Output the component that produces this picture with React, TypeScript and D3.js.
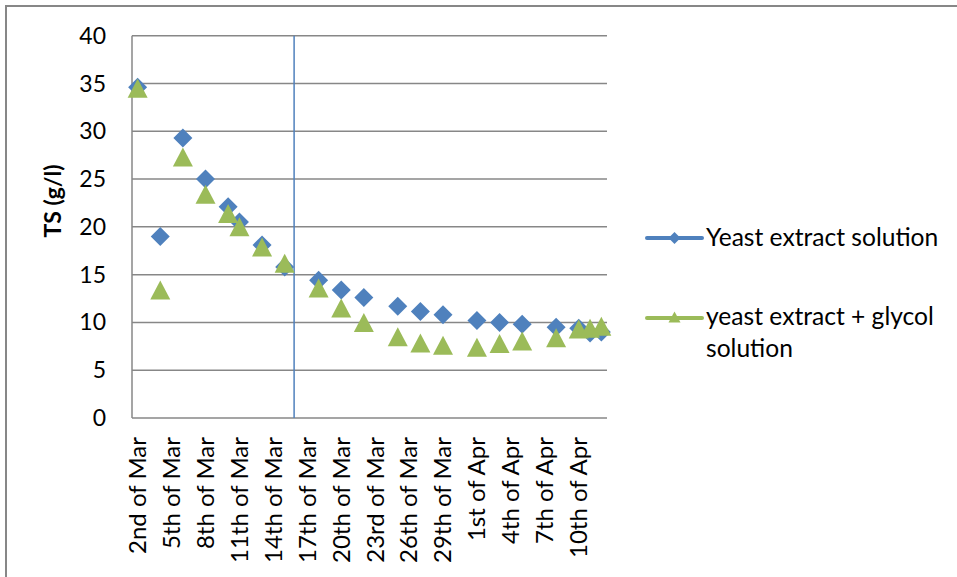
import React from "react";
import * as d3 from "d3";

// ---- data ----
const sampleDates: string[] = [
  "2012-03-02", "2012-03-04", "2012-03-06", "2012-03-08", "2012-03-10", "2012-03-11",
  "2012-03-13", "2012-03-15", "2012-03-18", "2012-03-20", "2012-03-22", "2012-03-25",
  "2012-03-27", "2012-03-29", "2012-04-01", "2012-04-03", "2012-04-05", "2012-04-08",
  "2012-04-10", "2012-04-11", "2012-04-12",
];
const yeastExtract: number[] = [
  34.6, 19.0, 29.3, 25.0, 22.1, 20.5, 18.1, 15.8, 14.4, 13.4, 12.6, 11.7,
  11.15, 10.8, 10.2, 10.0, 9.8, 9.5, 9.4, 8.9, 9.0,
];
const yeastGlycol: number[] = [
  34.5, 13.4, 27.3, 23.4, 21.4, 20.0, 17.9, 16.2, 13.6, 11.5, 10.0, 8.5,
  7.85, 7.6, 7.4, 7.8, 8.05, 8.4, 9.3, 9.4, 9.6,
];
const seriesNames: string[] = ["Yeast extract solution", "yeast extract + glycol solution"];
const xTickDates: string[] = [
  "2012-03-02", "2012-03-05", "2012-03-08", "2012-03-11", "2012-03-14", "2012-03-17",
  "2012-03-20", "2012-03-23", "2012-03-26", "2012-03-29", "2012-04-01", "2012-04-04",
  "2012-04-07", "2012-04-10",
];
const xTickLabels: string[] = [
  "2nd of Mar", "5th of Mar", "8th of Mar", "11th of Mar", "14th of Mar", "17th of Mar",
  "20th of Mar", "23rd of Mar", "26th of Mar", "29th of Mar", "1st of Apr", "4th of Apr",
  "7th of Apr", "10th of Apr",
];
const yTicks: number[] = [0, 5, 10, 15, 20, 25, 30, 35, 40];
const xDomain: string[] = ["2012-03-01T12:00:00Z", "2012-04-12T12:00:00Z"];
const markerLineDate = "2012-03-15T20:00:00Z";
const yAxisTitle = "TS (g/l)";

const BLUE = "#4F81BD";
const GREEN = "#9BBB59";
const GRID = "#878787";
const FONT = "Lato, 'Open Sans', sans-serif";

export default function App() {
  const W = 957, H = 577;
  const left = 132, right = 607, top = 35.7, bottom = 418;
  const x = d3.scaleUtc().domain(xDomain.map((s) => new Date(s))).range([left, right]);
  const y = d3.scaleLinear().domain([0, 40]).range([bottom, top]);
  const parse = (s: string) => new Date(s + "T00:00:00Z");

  const diamond = (cx: number, cy: number, r: number) =>
    `M${cx},${cy - r}L${cx + r},${cy}L${cx},${cy + r}L${cx - r},${cy}Z`;
  const triangle = (cx: number, cy: number, w: number, h: number) =>
    `M${cx},${cy - h / 2}L${cx + w / 2},${cy + h / 2}L${cx - w / 2},${cy + h / 2}Z`;

  const mx = x(new Date(markerLineDate));

  return (
    <svg width={W} height={H} style={{ position: "absolute", left: 0, top: 0, background: "#fff" }}>
      <rect width={W} height={H} fill="#fff" />
      {/* outer frame */}
      <line x1={5} x2={W} y1={6} y2={6} stroke={GRID} strokeWidth={2} />
      <line x1={6} x2={6} y1={5} y2={H} stroke={GRID} strokeWidth={2} />

      {/* gridlines */}
      {yTicks.map((t) => (
        <line key={"g" + t} x1={left} x2={right} y1={y(t)} y2={y(t)} stroke={GRID} strokeWidth={1.5} />
      ))}
      <line x1={left} x2={left} y1={top} y2={bottom} stroke={GRID} strokeWidth={1.5} />

      {/* y tick labels */}
      {yTicks.map((t) => (
        <text key={"yl" + t} x={106} y={y(t)} dy="0.35em" textAnchor="end"
          fontFamily={FONT} fontSize={23} fill="#000">{t}</text>
      ))}

      {/* y title */}
      <text transform={`translate(53,201) rotate(-90)`} textAnchor="middle" dy="0.35em"
        fontFamily={FONT} fontSize={23} fontWeight="bold" fill="#000">{yAxisTitle}</text>

      {/* x tick labels */}
      {xTickDates.map((d, i) => (
        <text key={"xl" + d} transform={`translate(${x(parse(d))},437) rotate(-90)`}
          textAnchor="end" dy="0.35em" fontFamily={FONT} fontSize={24} fill="#000">{xTickLabels[i]}</text>
      ))}

      {/* vertical marker line */}
      <line x1={mx} x2={mx} y1={top} y2={bottom} stroke={BLUE} strokeWidth={1.5} />

      {/* series 1 */}
      {sampleDates.map((d, i) => (
        <path key={"b" + d} d={diamond(x(parse(d)), y(yeastExtract[i]), 9.5)} fill={BLUE} />
      ))}
      {/* series 2 */}
      {sampleDates.map((d, i) => (
        <path key={"t" + d} d={triangle(x(parse(d)), y(yeastGlycol[i]), 20, 19)} fill={GREEN} />
      ))}

      {/* legend */}
      <line x1={647} x2={702} y1={238} y2={238} stroke={BLUE} strokeWidth={4} strokeLinecap="round" />
      <path d={diamond(674.5, 238, 6)} fill={BLUE} />
      <text x={706} y={246} fontFamily={FONT} fontSize={24.6} fill="#000">{seriesNames[0]}</text>

      <line x1={647} x2={702} y1={318} y2={318} stroke={GREEN} strokeWidth={4} strokeLinecap="round" />
      <path d={triangle(674.5, 317, 12, 11)} fill={GREEN} />
      <text x={706} y={325} fontFamily={FONT} fontSize={24.6} fill="#000">
        <tspan x={706}>yeast extract + glycol</tspan>
        <tspan x={706} dy={31.7}>solution</tspan>
      </text>
    </svg>
  );
}
